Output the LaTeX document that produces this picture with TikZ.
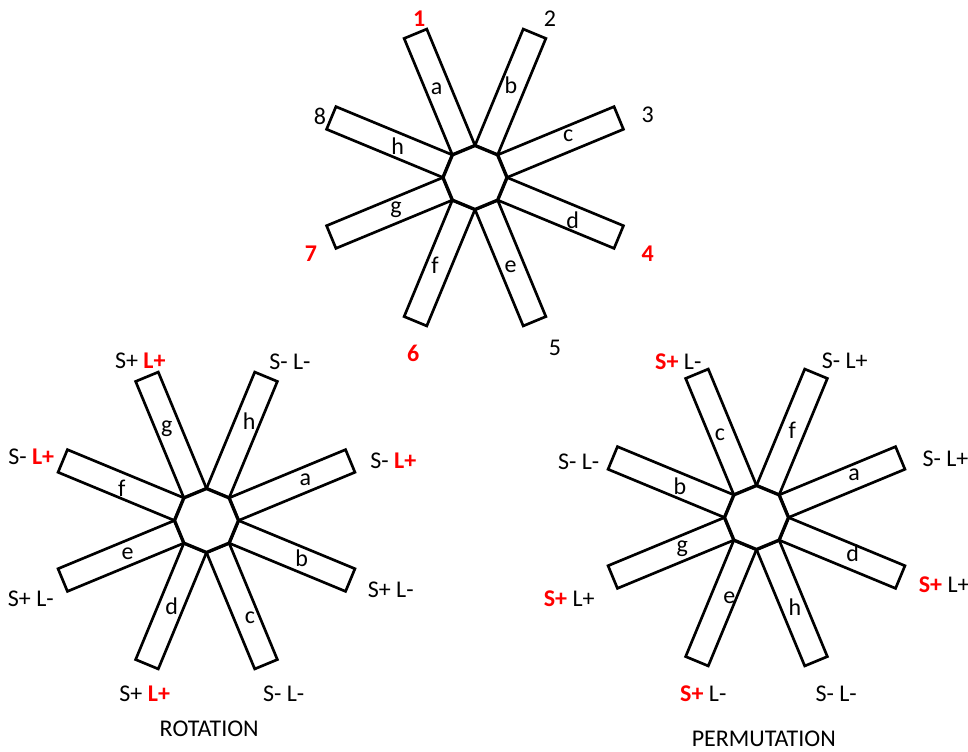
\documentclass[tikz,border=0pt]{standalone}
\usepackage{fontspec}
\setmainfont{Carlito}
\usepackage{xcolor}
\usepackage{tikz}
\usetikzlibrary{positioning}
\definecolor{markred}{HTML}{FF0000}
\newcommand{\redmark}[1]{\textcolor{markred}{\textbf{#1}}}
\tikzstyle{blade} = [draw, line width=2pt, fill=white, line join=miter]
\tikzstyle{hub} = [draw, line width=2.5pt, fill=white, line join=miter]
\tikzstyle{lbl} = [font=\fontsize{18}{21}\selectfont, inner sep=0pt]

\begin{document}
\begin{tikzpicture}[x=0.75pt, y=-0.75pt]
    \useasboundingbox (0,0) rectangle (968,751);
    \coordinate (top) at (475,177.5);
    \coordinate (rot) at (206.5,520.5);
    \coordinate (perm) at (756.5,517.5);

    % blades and hubs
    \foreach \c in {top, rot, perm} {
        \foreach \ang in {22.5,67.5,...,337.5}
            \draw [blade, shift={(\c)}, rotate=\ang] (29.6,-12.25) rectangle (155.6,12.25);
        \draw [hub, shift={(\c)}] (0:32) -- (45:32) -- (90:32) -- (135:32) -- (180:32) -- (225:32) -- (270:32) -- (315:32) -- cycle;
    }

    % blade letters
    \foreach \n/\x/\y in {a/436.7/88.3, b/511/85, c/568.3/136, d/572.7/220, e/510.7/266.7, f/435/265.7, g/396/210, h/397.7/145.7}
        \node [lbl] (top-\n) at (\x,\y) {\n};
    \foreach \n/\x/\y in {a/305.3/480, b/301.7/558.3, c/250/617.7, d/171.7/606.7, e/127.7/553.3, f/121.7/488.3, g/166.7/428.3, h/249.3/420.7}
        \node [lbl] (rot-\n) at (\x,\y) {\n};
    \foreach \n/\x/\y in {a/854/475, b/680/486.7, c/720/435, d/852.7/553.3, e/729.3/597.3, f/792.3/430.7, g/682.3/548.3, h/795/606.7}
        \node [lbl] (perm-\n) at (\x,\y) {\n};

    % positions
    \node [lbl] (n1) at (419.3,18.3) {\redmark{1}};
    \node [lbl] (n2) at (550,18.3) {2};
    \node [lbl] (n3) at (647.7,114.3) {3};
    \node [lbl] (n4) at (647.7,253.3) {\redmark{4}};
    \node [lbl] (n5) at (555,348.3) {5};
    \node [lbl] (n6) at (413.3,353.3) {\redmark{6}};
    \node [lbl] (n7) at (311,253.3) {\redmark{7}};
    \node [lbl] (n8) at (320,116.7) {8};

    % rotation
    \node [lbl] (r1) at (140.3,360.7) {S+ \redmark{L+}};
    \node [lbl] (r2) at (290,361.7) {S- L-};
    \node [lbl] (r3) at (393.3,460.7) {S- \redmark{L+}};
    \node [lbl] (r4) at (390.7,589.3) {S+ L-};
    \node [lbl] (r5) at (283.7,693.7) {S- L-};
    \node [lbl] (r6) at (144.7,693.7) {S+ \redmark{L+}};
    \node [lbl] (r7) at (30.8,598.3) {S+ L-};
    \node [lbl] (r8) at (31.3,457) {S- \redmark{L+}};
    \node [lbl] (rtitle) at (209.2,728.5) {ROTATION};

    % permutation
    \node [lbl] (p1) at (678.3,361.7) {\redmark{S+} L-};
    \node [lbl] (p2) at (844.7,360.7) {S- L+};
    \node [lbl] (p3) at (945.5,458.7) {S- L+};
    \node [lbl] (p4) at (944.2,584.7) {\redmark{S+} L+};
    \node [lbl] (p5) at (836.2,693.7) {S- L-};
    \node [lbl] (p6) at (703.3,693.7) {\redmark{S+} L-};
    \node [lbl] (p7) at (569.2,598.7) {\redmark{S+} L+};
    \node [lbl] (p8) at (578.7,461.7) {S- L-};
    \node [lbl] (ptitle) at (763.8,738.5) {PERMUTATION};
\end{tikzpicture}
\end{document}
